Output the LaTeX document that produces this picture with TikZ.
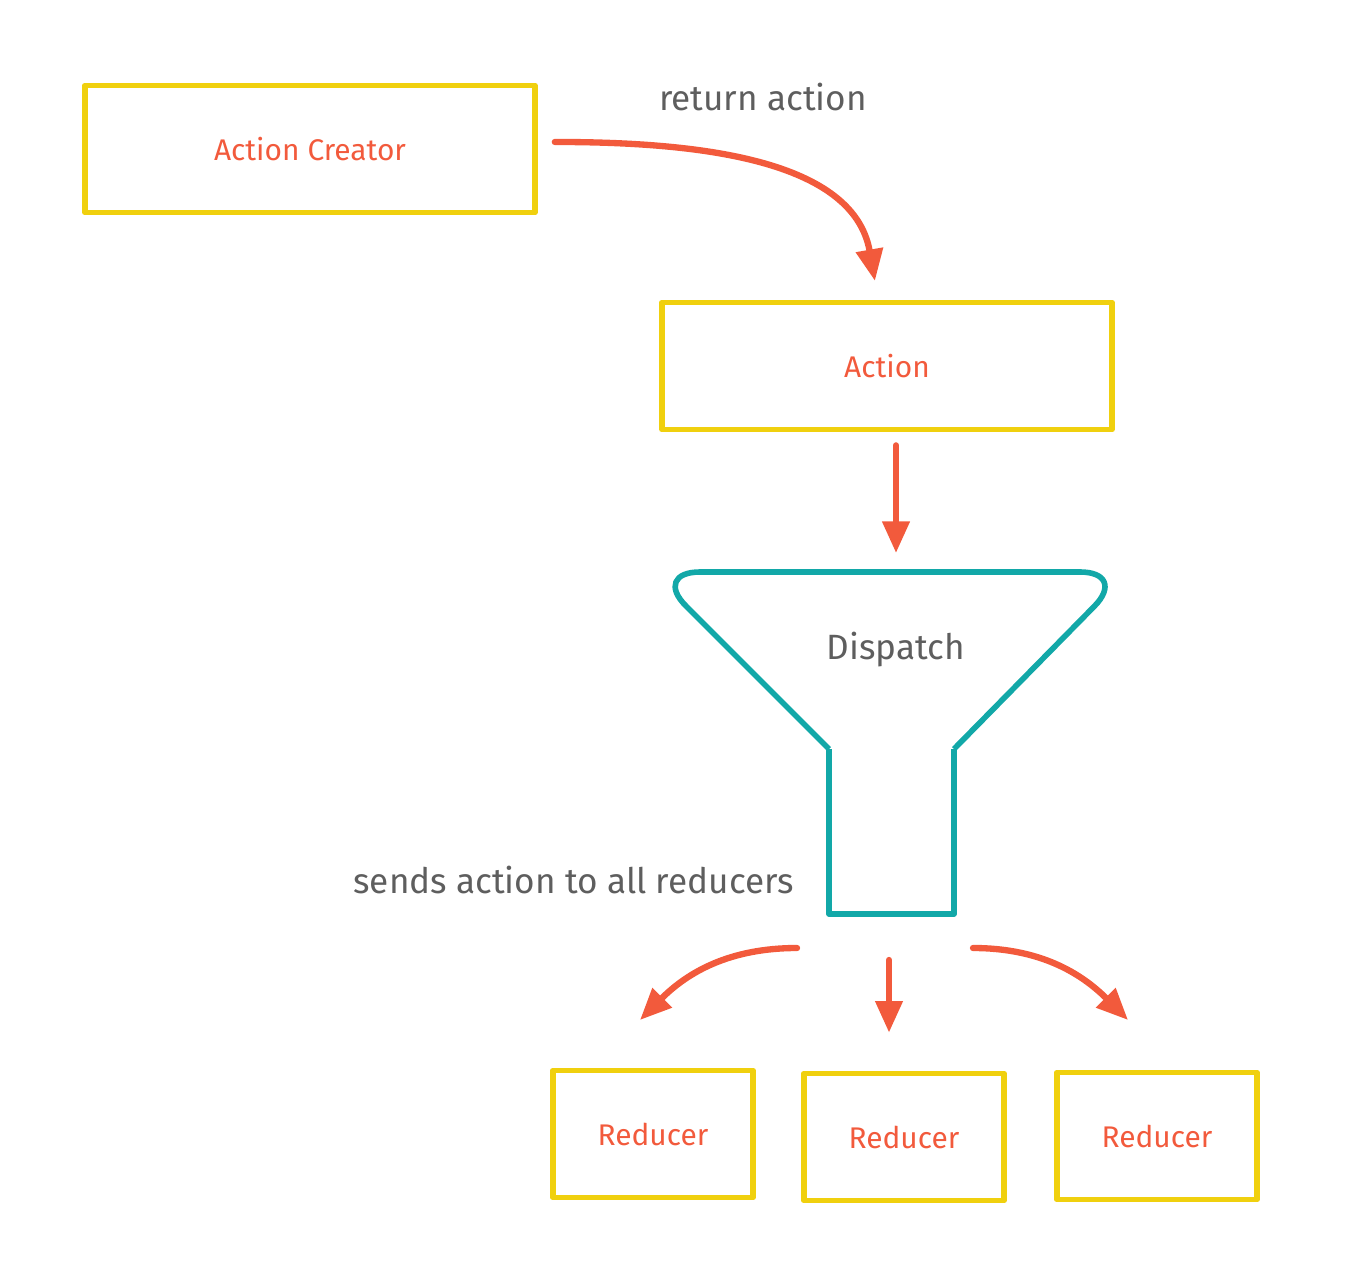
\documentclass[tikz,border=0pt]{standalone}
\usepackage{fontspec}
\setmainfont{Fira Sans}
\usetikzlibrary{arrows.meta,positioning}
\definecolor{rdxorange}{HTML}{F25A3C}
\definecolor{rdxyellow}{HTML}{F0D00E}
\definecolor{rdxteal}{HTML}{12A8A8}
\definecolor{rdxgray}{HTML}{5E5E5E}

\begin{document}
\begin{tikzpicture}[x=0.02cm,y=-0.02cm,>={Triangle[length=18pt,width=15pt]},
      box/.style={draw=rdxyellow,line width=3.3pt,line join=round,text=rdxorange,font=\fontsize{17}{20}\selectfont},
      wide/.style={box,minimum width=9cm,minimum height=2.54cm},
      small/.style={box,minimum width=4cm,minimum height=2.54cm},
      flow/.style={->,color=rdxorange,line width=3.6pt,line cap=round},
      funnel/.style={draw=rdxteal,line width=3.2pt,line join=round},
      note/.style={text=rdxgray,font=\fontsize{20}{24}\selectfont}]
      \useasboundingbox (0,0) rectangle (1368,1274);

      \node[wide]  (creator) at (310,149)  {Action Creator};
      \node[wide]  (action)  at (887,366)  {Action};
      \node[small] (red1)    at (653,1134) {Reducer};
      \node[small] (red2)    at (904,1137) {Reducer};
      \node[small] (red3)    at (1157,1136) {Reducer};

      % funnel
      \draw[funnel,rounded corners=0.96cm] (829,749) -- (652,572) -- (1128,572) -- (954,749);
      \draw[funnel] (829,749) -- (829,914) -- (954,914) -- (954,749);
      \node[note] (dispatch) at (896,650) {Dispatch};
      \coordinate (dtop) at (896,572);
      \coordinate (dbot) at (889,914);
      \coordinate (sendl) at (797,948);
      \coordinate (endl)  at (640,1020);
      \coordinate (sendr) at (973,948);
      \coordinate (endr)  at (1128,1020);

      \node[note] (ret)   at (763,97) {return action};
      \node[note,anchor=east] (sends) at (800,880) {sends action to all reducers};

      \draw[flow,shorten <=0.34cm,shorten >=0.38cm] ([yshift=4pt]creator.east) to[out=0,in=100] ([xshift=-5pt]action.north);
      \draw[flow,shorten <=0.26cm,shorten >=0.38cm] (action.south -| dtop) -- (dtop);
      \draw[flow] (sendl) to[out=180,in=45] (endl);
      \draw[flow,shorten <=0.92cm,shorten >=0.76cm] (dbot) -- (red2.north -| dbot);
      \draw[flow] (sendr) to[out=0,in=135] (endr);
    \end{tikzpicture}
\end{document}
